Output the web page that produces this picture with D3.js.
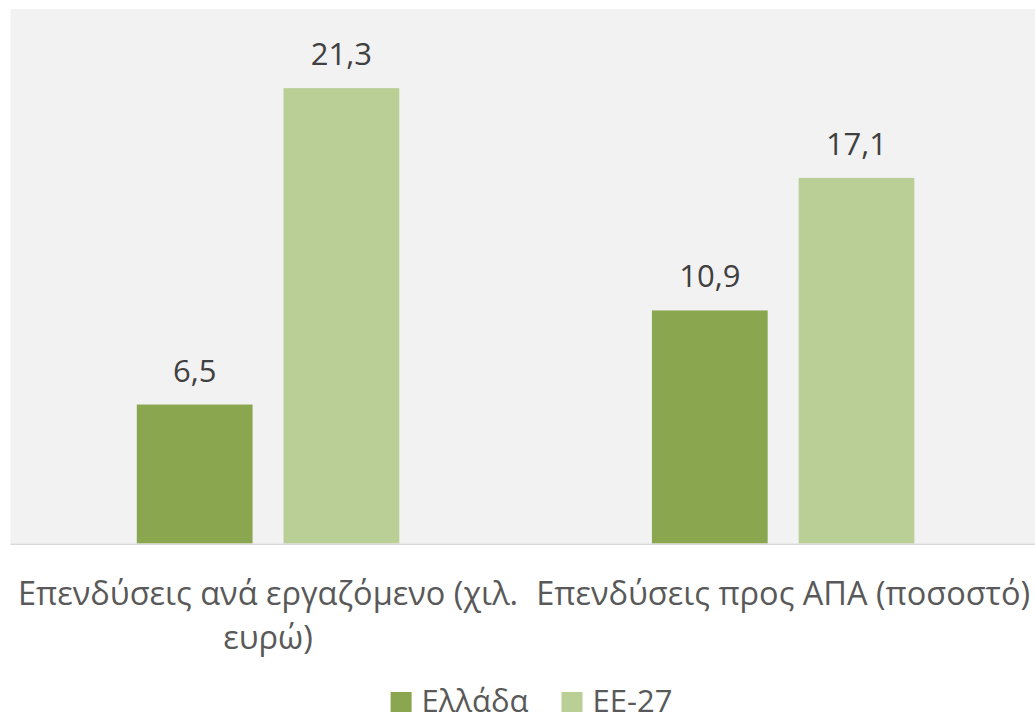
<!DOCTYPE html>
<html>
<head>
<meta charset="utf-8">
<script src="https://cdn.jsdelivr.net/npm/d3@7"></script>
<style>
  html, body { margin: 0; padding: 0; background: #ffffff; }
  svg { display: block; font-family: "Open Sans", "Noto Sans", sans-serif; }
</style>
</head>
<body>
<svg id="svg" width="1035" height="721"></svg>
<script>
var categories = ["Επενδύσεις ανά εργαζόμενο (χιλ. ευρώ)", "Επενδύσεις προς ΑΠΑ (ποσοστό)"];
var categoryLines = [["Επενδύσεις ανά εργαζόμενο (χιλ.", "ευρώ)"], ["Επενδύσεις προς ΑΠΑ (ποσοστό)"]];
var seriesNames = ["Ελλάδα", "ΕΕ-27"];
var greece = [6.5, 10.9];
var eu27 = [21.3, 17.1];
var colors = ["#8aa64f", "#b9cf96"];

var svg = d3.select("#svg");
var width = 1035, height = 721;

var plotLeft = 10.5, plotRight = 1040.7, plotTop = 9, plotBottom = 543.5;

var x0 = d3.scaleBand()
    .domain(categories)
    .range([plotLeft, plotRight])
    .padding(0);

var x1 = d3.scaleBand()
    .domain(seriesNames)
    .range([0, x0.bandwidth()])
    .paddingInner(0.211)
    .paddingOuter(0.861);

var y = d3.scaleLinear()
    .domain([0, 25])
    .range([plotBottom, plotTop]);

var color = d3.scaleOrdinal().domain(seriesNames).range(colors);

// plot background
svg.append("rect")
    .attr("x", plotLeft)
    .attr("y", plotTop)
    .attr("width", plotRight - plotLeft)
    .attr("height", plotBottom - plotTop)
    .attr("fill", "#f2f2f2");

var rows = categories.map(function (c, i) {
    return {category: c, lines: categoryLines[i], values: [
        {series: seriesNames[0], value: greece[i]},
        {series: seriesNames[1], value: eu27[i]}
    ]};
});

var groups = svg.selectAll(".group")
    .data(rows)
    .enter().append("g")
    .attr("class", "group")
    .attr("transform", function (d) {
        return "translate(" + x0(d.category) + ",0)";
    });

groups.selectAll("rect")
    .data(function (d) { return d.values; })
    .enter().append("rect")
    .attr("x", function (d) { return x1(d.series); })
    .attr("y", function (d) { return y(d.value); })
    .attr("width", x1.bandwidth())
    .attr("height", function (d) { return y(0) - y(d.value); })
    .attr("fill", function (d) { return color(d.series); });

groups.selectAll(".value")
    .data(function (d) { return d.values; })
    .enter().append("text")
    .attr("class", "value")
    .attr("x", function (d) { return x1(d.series) + x1.bandwidth() / 2; })
    .attr("y", function (d) { return y(d.value) - 23; })
    .attr("text-anchor", "middle")
    .attr("font-size", "31px")
    .attr("fill", "#404040")
    .text(function (d) { return d3.format(".1f")(d.value).replace(".", ","); });

// baseline
svg.append("line")
    .attr("x1", plotLeft)
    .attr("x2", plotRight)
    .attr("y1", y(0) + 0.75)
    .attr("y2", y(0) + 0.75)
    .attr("stroke", "#d9d9d9")
    .attr("stroke-width", 1.5);

// category labels
var labels = svg.selectAll(".cat")
    .data(rows)
    .enter().append("text")
    .attr("class", "cat")
    .attr("text-anchor", "middle")
    .attr("font-size", "32.5px")
    .attr("fill", "#595959");

labels.selectAll("tspan")
    .data(function (d) {
        return d.lines.map(function (l) { return {line: l, cx: x0(d.category) + x0.bandwidth() / 2}; });
    })
    .enter().append("tspan")
    .attr("x", function (d) { return d.cx; })
    .attr("y", function (d, i) { return 605 + i * 44; })
    .text(function (d) { return d.line; });

// legend
var legend = svg.append("g").attr("class", "legend");
var lx = 0;
seriesNames.forEach(function (s, i) {
    var item = legend.append("g").attr("transform", "translate(" + lx + ",0)");
    item.append("rect")
        .attr("x", 0)
        .attr("y", 692)
        .attr("width", 21)
        .attr("height", 20)
        .attr("fill", color(s));
    var t = item.append("text")
        .attr("x", 31)
        .attr("y", 712)
        .attr("font-size", "31px")
        .attr("fill", "#595959")
        .text(s);
    lx += 31 + t.node().getComputedTextLength() + 33;
});
var legendWidth = lx - 33;
legend.attr("transform", "translate(" + (531.5 - legendWidth / 2) + ",0)");
</script>
</body>
</html>
